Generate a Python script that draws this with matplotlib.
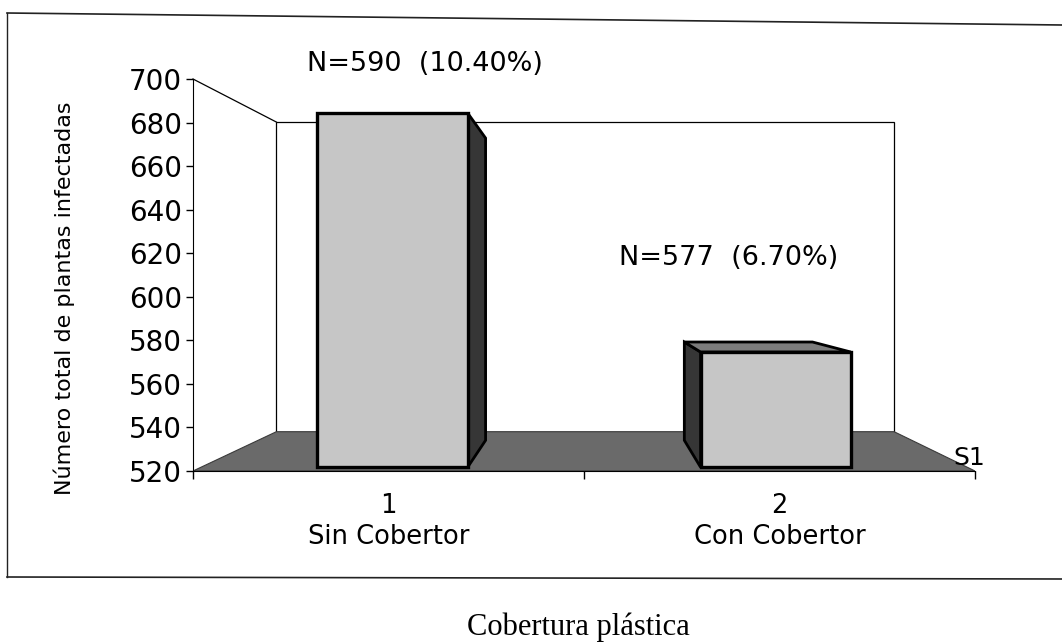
import matplotlib
matplotlib.use('Agg')
import matplotlib.pyplot as plt
from matplotlib.patches import Polygon
from matplotlib.lines import Line2D

# ---------------------------------------------------------------
# DATA
categories = ['1\nSin Cobertor', '2\nCon Cobertor']
values = [686, 574]
notes = ['N=590  (10.40%)', 'N=577  (6.70%)']
series_name = 'S1'
yticks = [520, 540, 560, 580, 600, 620, 640, 660, 680, 700]
ylabel = 'Número total de plantas infectadas'
xlabel = 'Cobertura plástica'
# ---------------------------------------------------------------

# layout / 3d look
W, H = 1062, 643
note_pos = [(1.093, 707), (1.871, 618)]
s1_pos = (2.485, 526)
cx, cy = 1.515, 605.9          # vanishing centre (data units)
wall_s = 0.79                  # scale of the back wall
bar_sf, bar_sb = 0.98, 0.836   # scale of bar front / back faces
half_w = 0.196
c_front = '#c6c6c6'
c_floor = '#6a6a6a'
c_side = '#363636'
c_top = '#7c7c7c'


def proj(x, v, s):
    return (cx + s * (x - cx), cy + s * (v - cy))


fig = plt.figure(figsize=(W / 100, H / 100), dpi=100)
ax = fig.add_axes([193 / W, 1 - 471 / H, 782 / W, 392 / H])
ax.set_xlim(0.5, 2.5)
ax.set_ylim(yticks[0], yticks[-1])
ax.patch.set_visible(False)
ax.spines['top'].set_visible(False)
ax.spines['right'].set_visible(False)

x_lo, x_hi = 0.5, 2.5
v_lo, v_hi = yticks[0], yticks[-1]

# back wall
wall = Polygon([proj(x_lo, v_hi, wall_s), proj(x_hi, v_hi, wall_s),
                proj(x_hi, v_lo, wall_s), proj(x_lo, v_lo, wall_s)],
               closed=True, fc='white', ec='black', lw=0.9, zorder=1)
ax.add_patch(wall)

# floor
floor = Polygon([(x_lo, v_lo), (x_hi, v_lo),
                 proj(x_hi, v_lo, wall_s), proj(x_lo, v_lo, wall_s)],
                closed=True, fc=c_floor, ec='#3a3a3a', lw=0.8, zorder=2)
ax.add_patch(floor)

# left wall top edge
p = proj(x_lo, v_hi, wall_s)
ax.plot([x_lo, p[0]], [v_hi, p[1]], color='black', lw=0.9, zorder=1, clip_on=False)

# bars
for i, v in enumerate(values):
    c = i + 1
    x0, x1 = c - half_w, c + half_w
    if x1 < cx:
        xs = x1
    else:
        xs = x0
    side = Polygon([proj(xs, v_lo, bar_sf), proj(xs, v, bar_sf),
                    proj(xs, v, bar_sb), proj(xs, v_lo, bar_sb)],
                   closed=True, fc=c_side, ec='black', lw=2, zorder=3)
    ax.add_patch(side)
    if v < cy:
        top = Polygon([proj(x0, v, bar_sf), proj(x1, v, bar_sf),
                       proj(x1, v, bar_sb), proj(x0, v, bar_sb)],
                      closed=True, fc=c_top, ec='black', lw=2, zorder=3)
        ax.add_patch(top)
    front = Polygon([proj(x0, v_lo, bar_sf), proj(x1, v_lo, bar_sf),
                     proj(x1, v, bar_sf), proj(x0, v, bar_sf)],
                    closed=True, fc=c_front, ec='black', lw=2.4, zorder=4)
    ax.add_patch(front)

# axes, ticks
ax.set_yticks(yticks)
ax.tick_params(axis='y', direction='out', length=5, width=1, labelsize=20, pad=3)
ax.set_xticks([0.5, 1.5, 2.5])
ax.set_xticklabels(['', '', ''])
ax.tick_params(axis='x', which='major', direction='out', length=6, width=1)
ax.set_xticks([1, 2], minor=True)
ax.set_xticklabels(categories, minor=True, fontsize=18.5, linespacing=1.25)
ax.tick_params(axis='x', which='minor', length=0, pad=16)

for t, (nx, ny) in zip(notes, note_pos):
    ax.text(nx, ny, t, ha='center', va='center', fontsize=19.5, clip_on=False)
ax.text(s1_pos[0], s1_pos[1], series_name, ha='center', va='center', fontsize=18)

fig.text(64 / W, 1 - 298 / H, ylabel, rotation=90, ha='center', va='center', fontsize=16)
fig.text(578 / W, 1 - 635 / H, xlabel, ha='center', va='baseline', fontsize=22,
         family='Liberation Serif')

# outer frame of the scanned chart
fig.add_artist(Line2D([7 / W, 1.0], [1 - 13 / H, 1 - 25 / H], color='#222222', lw=1.2))
fig.add_artist(Line2D([7 / W, 7 / W], [1 - 13 / H, 1 - 577 / H], color='#222222', lw=1.0))
fig.add_artist(Line2D([7 / W, 1.0], [1 - 577 / H, 1 - 579 / H], color='#222222', lw=1.2))

fig.savefig('out.png', dpi=100)
